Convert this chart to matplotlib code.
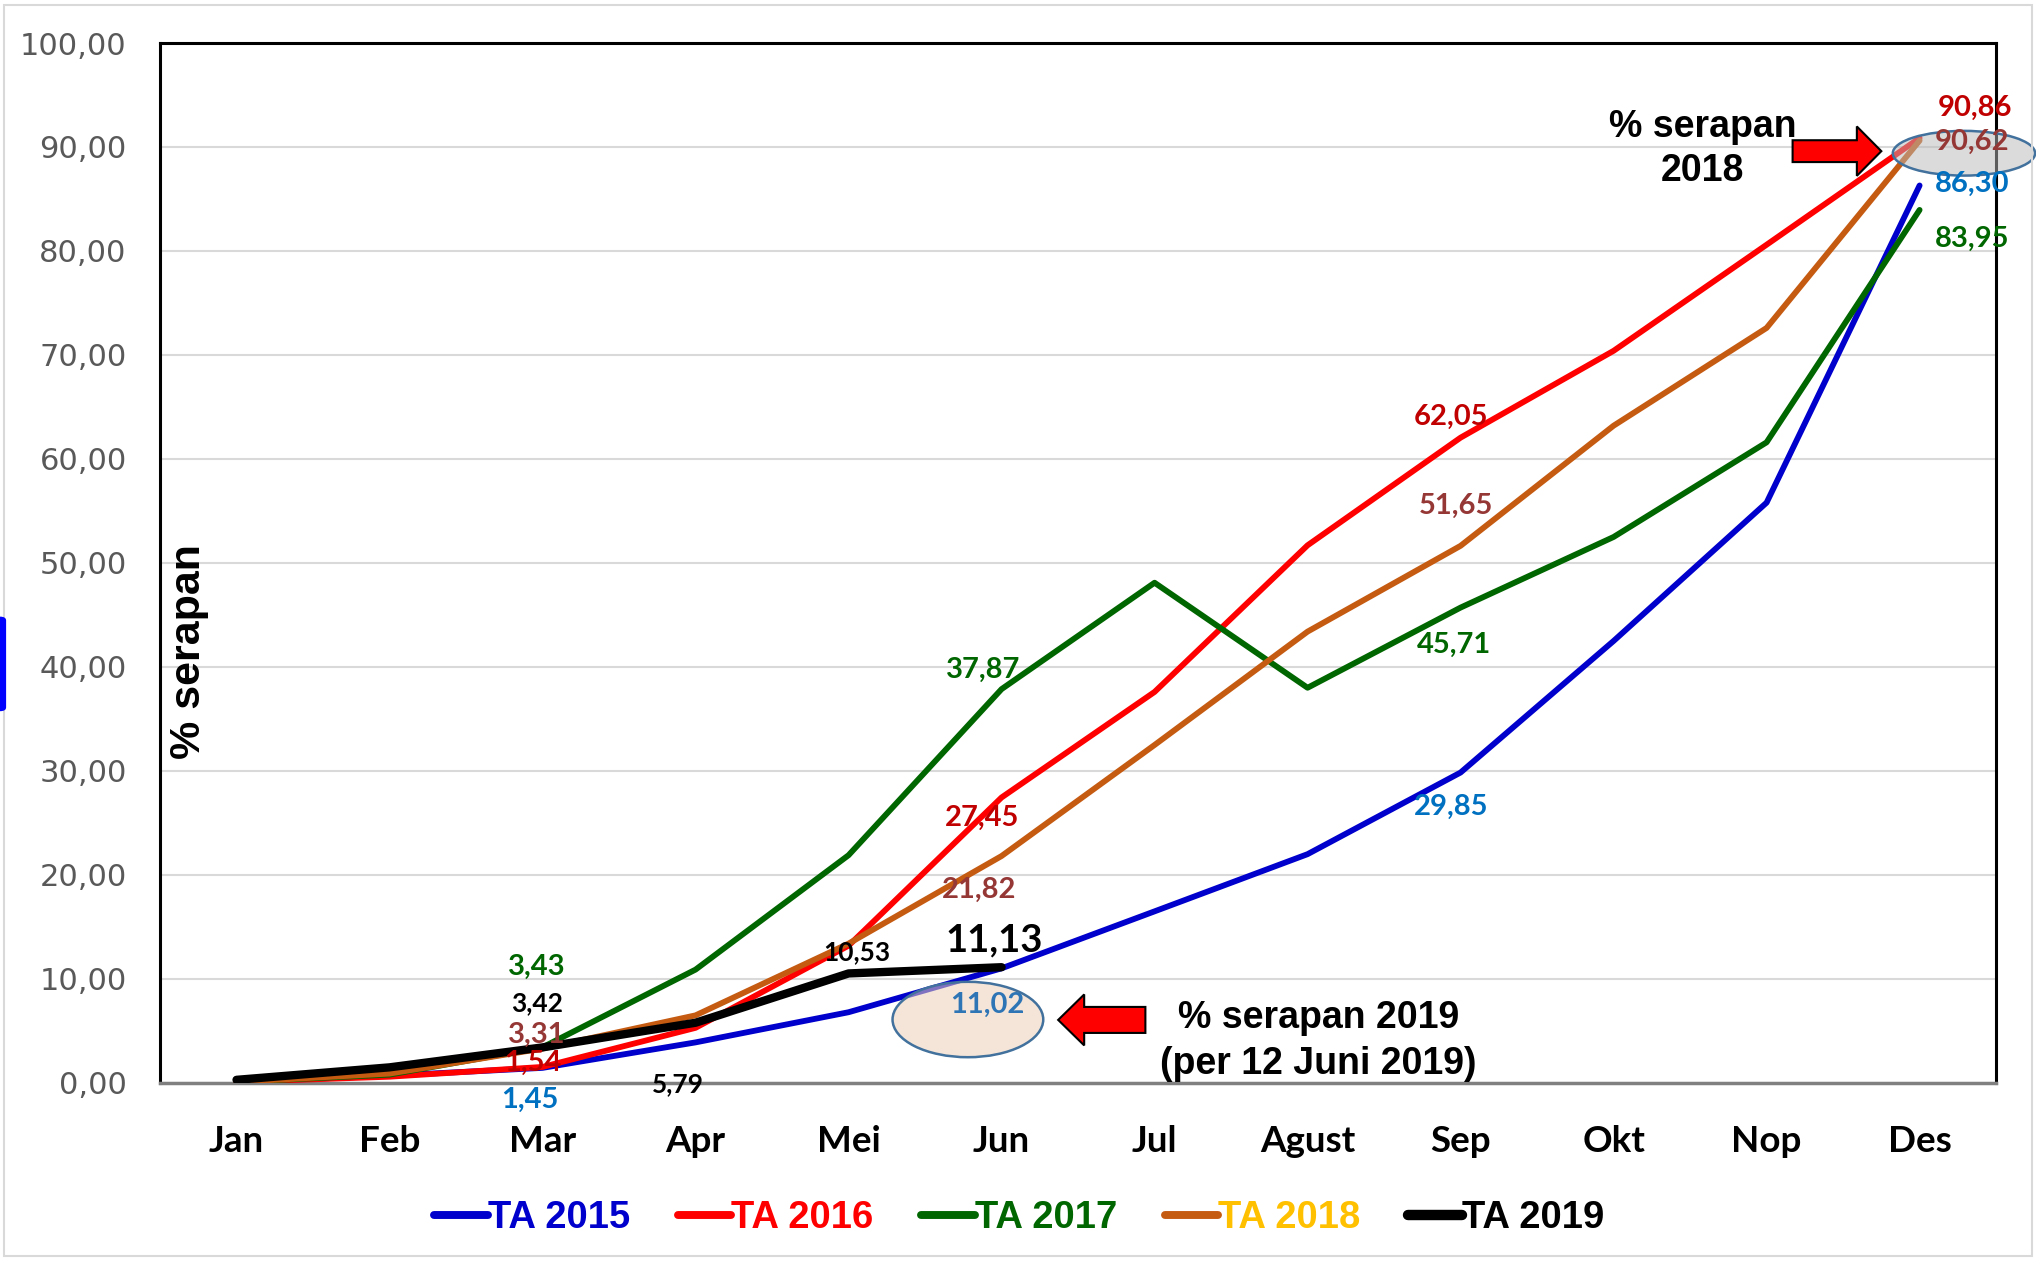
import matplotlib
matplotlib.use("Agg")
import matplotlib.pyplot as plt
from matplotlib.patches import Ellipse, FancyArrow, Rectangle, FancyBboxPatch
from matplotlib.ticker import FuncFormatter, MultipleLocator

months = ["Jan", "Feb", "Mar", "Apr", "Mei", "Jun", "Jul", "Agust", "Sep", "Okt", "Nop", "Des"]
ta2015 = [0.1, 0.7, 1.45, 3.9, 6.8, 11.02, 16.5, 22.0, 29.85, 42.5, 55.8, 86.30]
ta2016 = [0.1, 0.6, 1.54, 5.3, 13.2, 27.45, 37.6, 51.7, 62.05, 70.4, 80.6, 90.86]
ta2017 = [0.1, 0.8, 3.43, 10.9, 21.9, 37.87, 48.1, 38.0, 45.71, 52.5, 61.6, 83.95]
ta2018 = [0.1, 0.9, 3.31, 6.5, 13.4, 21.82, 32.5, 43.4, 51.65, 63.2, 72.6, 90.62]
ta2019 = [0.3, 1.5, 3.42, 5.79, 10.53, 11.13]

series_names = ["TA 2015", "TA 2016", "TA 2017", "TA 2018", "TA 2019"]
series_vals = [ta2015, ta2016, ta2017, ta2018, ta2019]
line_colors = ["#0000CC", "#FF0000", "#006600", "#C55A11", "#000000"]
legend_text_colors = ["#0000CC", "#FF0000", "#006600", "#FFC000", "#000000"]
line_widths = [4.2, 4.2, 4.2, 4.2, 6.0]

# data labels: (series index, month index, text colour, offset in points, size)
labels = [
    (1, 11, "#C00000", (40, 22), 21),
    (3, 11, "#953735", (38, -1), 21),
    (0, 11, "#0070C0", (38, 1), 21),
    (2, 11, "#006600", (38, -21), 21),
    (1, 8, "#C00000", (-7, 15), 21),
    (3, 8, "#953735", (-3, 29), 21),
    (2, 8, "#006600", (-5, -27), 21),
    (0, 8, "#0070C0", (-7, -25), 21),
    (2, 5, "#006600", (-13, 14), 21),
    (1, 5, "#C00000", (-14, -15), 21),
    (3, 5, "#953735", (-16, -24), 21),
    (4, 5, "#000000", (-5, 19), 27.5),
    (0, 5, "#2E75B6", (-10, -26), 21),
    (4, 4, "#000000", (6, 15), 19),
    (2, 2, "#006600", (-4, 58), 21),
    (4, 2, "#000000", (-4, 32), 19),
    (3, 2, "#953735", (-4, 10), 21),
    (1, 2, "#C00000", (-7, 3), 21),
    (0, 2, "#0070C0", (-9, -23), 21),
    (4, 3, "#000000", (-13, -44), 19),
]

narrow = ["Liberation Sans Narrow", "Liberation Sans"]


def fmt(v):
    return f"{v:.2f}".replace(".", ",")


fig = plt.figure(figsize=(20.36, 12.61), dpi=100)
fig.patches.append(Rectangle((0.002, 0.004), 0.996, 0.992, transform=fig.transFigure,
                             fill=False, edgecolor="#D9D9D9", linewidth=1.5))
fig.patches.append(FancyBboxPatch((-0.004, 0.436), 0.007, 0.075, transform=fig.transFigure,
                                  boxstyle="round,pad=0,rounding_size=0.003",
                                  facecolor="#0000FF", edgecolor="none"))
ax = fig.add_axes([0.0786, 0.1412, 0.9018, 0.8247])

for name, vals, c, lw in zip(series_names, series_vals, line_colors, line_widths):
    ax.plot(months[:len(vals)], vals, color=c, linewidth=lw, label=name,
            solid_capstyle="round", solid_joinstyle="round", zorder=3)

ax.set_xlim(-0.5, 11.5)
ax.set_ylim(0, 100)
ax.yaxis.set_major_locator(MultipleLocator(10))
ax.yaxis.set_major_formatter(FuncFormatter(lambda v, p: fmt(v)))
ax.grid(axis="y", color="#D9D9D9", linewidth=1.5, zorder=0)
ax.tick_params(axis="y", length=0, pad=24, labelsize=22, labelcolor="#595959")
ax.tick_params(axis="x", length=0, pad=30)
for lab in ax.get_yticklabels():
    lab.set_family("DejaVu Sans")
for lab in ax.get_xticklabels():
    lab.set_family("Lato")
    lab.set_fontweight("bold")
    lab.set_fontsize(26.5)
for s in ["left", "right", "top"]:
    ax.spines[s].set_color("black")
    ax.spines[s].set_linewidth(2.2)
ax.spines["bottom"].set_color("#808080")
ax.spines["bottom"].set_linewidth(2.5)

for si, mi, col, off, size in labels:
    v = series_vals[si][mi]
    ax.annotate(fmt(v), (mi, v), xytext=off, textcoords="offset points",
                ha="center", va="center", color=col, fontsize=size,
                family="Lato", fontweight="bold", annotation_clip=False, zorder=6)

# highlight ellipses
ax.add_patch(Ellipse((4.78, 6.1), 0.985, 7.25, facecolor=(0.93, 0.82, 0.72, 0.55),
                     edgecolor="#41719C", linewidth=1.8, zorder=4, clip_on=False))
ax.add_patch(Ellipse((11.29, 89.4), 0.93, 4.3, facecolor=(0.72, 0.72, 0.72, 0.5),
                     edgecolor="#41719C", linewidth=1.8, zorder=4, clip_on=False))

# red arrows
ax.add_patch(FancyArrow(10.17, 89.6, 0.58, 0, width=2.1, head_width=4.75, head_length=0.16,
                        length_includes_head=True, facecolor="#FF0000", edgecolor="black",
                        linewidth=1.5, zorder=5, clip_on=False))
ax.add_patch(FancyArrow(5.94, 6.06, -0.57, 0, width=2.5, head_width=4.9, head_length=0.17,
                        length_includes_head=True, facecolor="#FF0000", edgecolor="black",
                        linewidth=1.5, zorder=5, clip_on=False))

ax.text(9.58, 89.8, "% serapan\n2018", ha="center", va="center", fontsize=27,
        family="Liberation Sans", fontweight="bold", linespacing=1.3, zorder=6)
ax.text(7.07, 4.0, "% serapan 2019\n(per 12 Juni 2019)", ha="center", va="center", fontsize=27,
        family="Liberation Sans", fontweight="bold", linespacing=1.35, zorder=6)
ax.text(-0.31, 41.5, "% serapan", rotation=90, ha="center", va="center", fontsize=31,
        family=narrow, fontweight="bold", zorder=6)

leg = ax.legend(loc="center", bbox_to_anchor=(0.5005, 0.034), bbox_transform=fig.transFigure,
                ncol=5, frameon=False, handlelength=1.4, handletextpad=0.0, columnspacing=1.25,
                prop={"family": narrow, "weight": "bold", "size": 27.5})
for txt, c in zip(leg.get_texts(), legend_text_colors):
    txt.set_color(c)
for h, lw in zip(leg.get_lines(), line_widths):
    h.set_linewidth(lw + 1.5)
    h.set_solid_capstyle("round")

fig.savefig("out.png", dpi=100)
